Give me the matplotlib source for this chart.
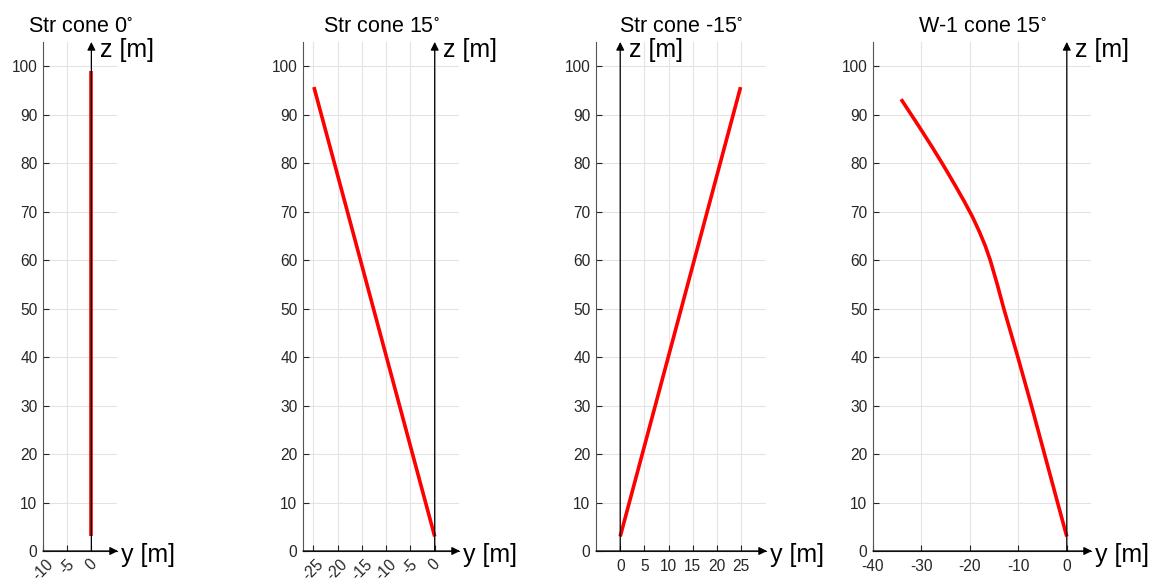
import matplotlib
matplotlib.use("Agg")
import matplotlib.pyplot as plt

plt.rcParams['font.family'] = ['Liberation Sans', 'DejaVu Sans']
plt.rcParams['mathtext.fontset'] = 'custom'
plt.rcParams['mathtext.rm'] = 'Liberation Sans'
plt.rcParams['mathtext.default'] = 'regular'
plt.rcParams['axes.unicode_minus'] = False

# ---- data ----
titles = ['Str cone 0$^{\\circ}$', 'Str cone 15$^{\\circ}$',
          'Str cone -15$^{\\circ}$', 'W-1 cone 15$^{\\circ}$']

cone0_y = [0, 0]
cone0_z = [3, 99]

str15_y = [0, -24.85]
str15_z = [3, 95.7]

strm15_y = [0, 24.85]
strm15_z = [3, 95.7]

w1_z = [3, 10, 20, 30, 40, 50, 55, 60, 63, 66, 69, 72, 75, 78, 80.1, 83.5, 87.1, 89.7, 93.2]
w1_y = [0, -1.9, -4.6, -7.3, -10.1, -13.0, -14.35, -15.8, -16.85, -18.1, -19.5, -21.1, -22.8, -24.55, -25.8, -27.9, -30.2, -31.9, -34.2]

series_y = [cone0_y, str15_y, strm15_y, w1_y]
series_z = [cone0_z, str15_z, strm15_z, w1_z]

xlims = [(-10, 5.3), (-27.1, 5), (-5, 30.1), (-40, 5)]
xticks = [[-10, -5, 0], [-25, -20, -15, -10, -5, 0], [0, 5, 10, 15, 20, 25], [-40, -30, -20, -10, 0]]
xrot = [45, 45, 0, 0]
yticks = list(range(0, 101, 10))
zmax = 105

# ---- layout (pixels) ----
W, H = 1153, 579
lefts = [43, 303, 596, 873]
rights = [117, 459, 766, 1091]
bottom_px, top_px = 551, 42

fig = plt.figure(figsize=(W / 100, H / 100), dpi=100)

for i in range(4):
    l = lefts[i] / W
    w = (rights[i] - lefts[i]) / W
    b = (H - bottom_px) / H
    h = (bottom_px - top_px) / H
    ax = fig.add_axes([l, b, w, h])
    ax.set_xlim(*xlims[i])
    ax.set_ylim(0, zmax)
    ax.set_xticks(xticks[i])
    ax.set_yticks(yticks)
    ax.grid(True, color='#e3e3e3', lw=0.8)
    ax.set_axisbelow(True)
    for s in ['top', 'right']:
        ax.spines[s].set_visible(False)
    ax.spines['left'].set_color('#555555')
    ax.spines['left'].set_linewidth(0.8)
    ax.spines['bottom'].set_color('#262626')
    ax.spines['bottom'].set_linewidth(0.8)
    ax.tick_params(axis='both', direction='in', length=4, width=0.8,
                   colors='#262626', labelsize=11.2)
    ax.tick_params(axis='y', pad=4)
    ax.tick_params(axis='x', pad=6 if xrot[i] == 0 else 4, labelrotation=xrot[i])

    ax.plot(series_y[i], series_z[i], color='red', lw=2.6, solid_capstyle='butt',
            solid_joinstyle='round', zorder=3)

    # z axis arrow
    ax.annotate('', xy=(0, zmax), xytext=(0, 0),
                arrowprops=dict(arrowstyle='-|>', color='black', lw=0.9,
                                mutation_scale=12, shrinkA=0, shrinkB=0),
                annotation_clip=False, zorder=4)
    ax.annotate('z [m]', xy=(0, zmax), xytext=(6, 3), textcoords='offset points',
                ha='left', va='top', fontsize=18, annotation_clip=False)
    # y axis arrow
    x0, x1 = xlims[i]
    ax.annotate('', xy=(x1 + 0.2, 0), xytext=(x0, 0),
                arrowprops=dict(arrowstyle='-|>', color='black', lw=0.9,
                                mutation_scale=12, shrinkA=0, shrinkB=0),
                annotation_clip=False, zorder=4)
    ax.annotate('y [m]', xy=(x1, 0), xytext=(3, -3), textcoords='offset points',
                ha='left', va='center', fontsize=18, annotation_clip=False)

    ax.set_title(titles[i], fontsize=15.5, pad=7)

fig.savefig('out.png', dpi=100)
